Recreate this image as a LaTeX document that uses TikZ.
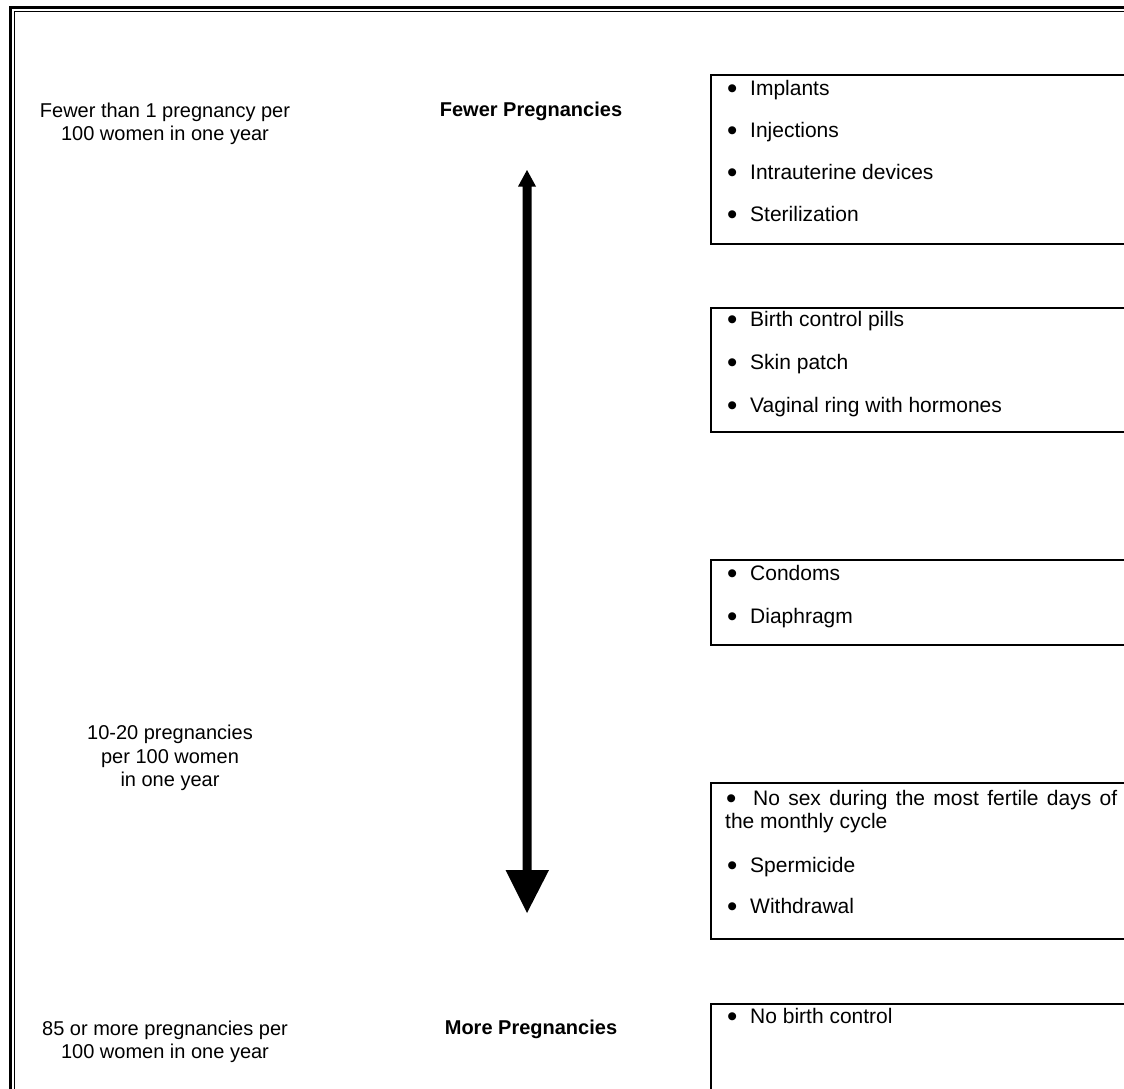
\documentclass[tikz,border=0pt]{standalone}
\usepackage{fontspec}
\setmainfont{Liberation Sans}
\begin{document}
\begin{tikzpicture}[x=1pt,y=-1pt,
  lefttext/.style={align=center,font=\fontsize{20}{23.5}\selectfont,inner sep=0pt},
  headtext/.style={font=\fontsize{20}{23.5}\selectfont\bfseries,inner sep=0pt},
  item/.style={anchor=west,font=\fontsize{21}{24}\selectfont,inner sep=0pt,text height=15pt,text depth=4pt},
  boxline/.style={draw=black,line width=2pt}]
\newcommand{\bigbul}{\raisebox{-2.6pt}{\scalebox{1.4}{\textbullet}}}
\newcommand{\bulitem}[1]{\makebox[23pt][l]{\bigbul}#1}
\useasboundingbox (0,0) rectangle (1124,1089);
\clip (0,0) rectangle (1124,1089);
% page border
\draw[line width=3.5pt] (10.5,1095) -- (10.5,7.5) -- (1130,7.5);
\draw[line width=1.5pt] (14.7,1095) -- (14.7,11.7) -- (1130,11.7);
% left labels
\node[lefttext] (t1) at (165,124) {Fewer than 1 pregnancy per\\100 women in one year};
\node[lefttext] (t2) at (170,758) {10-20 pregnancies\\per 100 women\\in one year};
\node[lefttext] (t3) at (165,1042) {85 or more pregnancies per\\100 women in one year};
\node[headtext] (h1) at (531,111) {Fewer Pregnancies};
\node[headtext] (h2) at (531,1029) {More Pregnancies};
% arrow
\fill (522.5,186.5) -- (518,186.5) -- (527,170) -- (536,186.5) -- (531.5,186.5)
      -- (531.5,870) -- (549,870) -- (527,913) -- (505.5,870) -- (522.5,870) -- cycle;
% boxes
\draw[boxline] (1130,75) -- (711,75) -- (711,244) -- (1130,244);
\draw[boxline] (1130,308) -- (711,308) -- (711,432) -- (1130,432);
\draw[boxline] (1130,560) -- (711,560) -- (711,645) -- (1130,645);
\draw[boxline] (1130,783) -- (711,783) -- (711,939) -- (1130,939);
\draw[boxline] (1130,1004) -- (711,1004) -- (711,1100);
% box 1
\foreach \y/\t [count=\i] in {90/Implants,132/Injections,174/Intrauterine devices,216/Sterilization}{
  \node[item] (i1\i) at (727,\y) {\bulitem{\t}};
}
% box 2
\foreach \y/\t [count=\i] in {321/Birth control pills,364/Skin patch,407/Vaginal ring with hormones}{
  \node[item] (i2\i) at (727,\y) {\bulitem{\t}};
}
% box 3
\foreach \y/\t [count=\i] in {575/Condoms,618/Diaphragm}{
  \node[item] (i3\i) at (727,\y) {\bulitem{\t}};
}
% box 4
\node[item] (i41) at (726,800) {\makebox[391pt][s]{\bigbul\ \ No sex during the most fertile days of}};
\node[item] (i42) at (725,823) {the monthly cycle};
\foreach \y/\t [count=\i from 3] in {867/Spermicide,908/Withdrawal}{
  \node[item] (i4\i) at (727,\y) {\bulitem{\t}};
}
% box 5
\node[item] (i51) at (727,1018) {\bulitem{No birth control}};
\end{tikzpicture}
\end{document}
